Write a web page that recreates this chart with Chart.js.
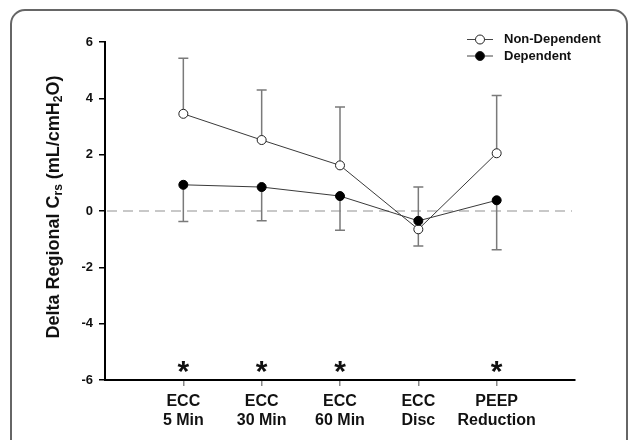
<!DOCTYPE html>
<html>
<head>
<meta charset="utf-8">
<script src="https://cdn.jsdelivr.net/npm/chart.js@4.4.0/dist/chart.umd.min.js"></script>
<style>
  html, body { margin: 0; padding: 0; background: #fff; }
  #wrap { width: 630px; height: 440px; }
</style>
</head>
<body>
<div id="wrap"><canvas id="chart" width="630" height="440"></canvas></div>
<script>
// data
const categories = [['ECC', '5 Min'], ['ECC', '30 Min'], ['ECC', '60 Min'], ['ECC', 'Disc'], ['PEEP', 'Reduction']];
const catPos = [1, 2, 3, 4, 5];
const nonDependent = [3.45, 2.52, 1.62, -0.65, 2.05];
const nonDependentUpper = [5.42, 4.30, 3.69, 0.85, 4.10];
const dependent = [0.93, 0.85, 0.53, -0.35, 0.38];
const dependentLower = [-0.37, -0.35, -0.68, -1.24, -1.38];
const significant = [true, true, true, false, true];
const starLevel = -5.55;
const yTicks = [-6, -4, -2, 0, 2, 4, 6];

const FONT = "Arial, 'Liberation Sans', sans-serif";

const decor = {
  id: 'decor',
  beforeDraw(chart) {
    const c = chart.ctx;
    c.save();
    c.fillStyle = '#fff';
    c.fillRect(0, 0, chart.width, chart.height);
    c.strokeStyle = '#666';
    c.lineWidth = 2;
    c.beginPath();
    c.roundRect(11, 10, 616, 450, 14);
    c.stroke();
    c.restore();
  },
  beforeDatasetsDraw(chart) {
    const c = chart.ctx, x = chart.scales.x, y = chart.scales.y;
    c.save();
    // zero reference line
    c.strokeStyle = '#c8c8c8';
    c.lineWidth = 2;
    c.setLineDash([10, 6]);
    c.beginPath();
    c.moveTo(chart.chartArea.left + 2, y.getPixelForValue(0));
    c.lineTo(chart.chartArea.right - 3, y.getPixelForValue(0));
    c.stroke();
    c.setLineDash([]);
    // error bars
    c.strokeStyle = '#7a7a7a';
    c.lineWidth = 1.5;
    const bar = (xv, from, to) => {
      const px = x.getPixelForValue(xv);
      const a = y.getPixelForValue(from), b = y.getPixelForValue(to);
      c.beginPath();
      c.moveTo(px, a); c.lineTo(px, b);
      c.moveTo(px - 5, b); c.lineTo(px + 5, b);
      c.stroke();
    };
    catPos.forEach((p, i) => {
      bar(p, nonDependent[i], nonDependentUpper[i]);
      bar(p, dependent[i], dependentLower[i]);
    });
    c.restore();
  },
  afterDraw(chart) {
    const c = chart.ctx, x = chart.scales.x, y = chart.scales.y;
    c.save();
    // significance stars
    c.fillStyle = '#111';
    c.font = 'bold 30px ' + FONT;
    c.textAlign = 'center';
    c.textBaseline = 'alphabetic';
    const m = c.measureText('*');
    const off = (m.actualBoundingBoxAscent - m.actualBoundingBoxDescent) / 2;
    catPos.forEach((p, i) => {
      if (significant[i]) c.fillText('*', x.getPixelForValue(p), y.getPixelForValue(starLevel) + off);
    });

    // legend
    const items = [
      { label: 'Non-Dependent', fill: '#fff', y: 39.5 },
      { label: 'Dependent', fill: '#000', y: 56 }
    ];
    items.forEach(it => {
      c.strokeStyle = '#444';
      c.lineWidth = 1;
      c.beginPath();
      c.moveTo(467, it.y); c.lineTo(493, it.y);
      c.stroke();
      c.beginPath();
      c.arc(480, it.y, 4.5, 0, Math.PI * 2);
      c.fillStyle = it.fill;
      c.fill();
      c.strokeStyle = '#222';
      c.stroke();
      c.fillStyle = '#111';
      c.font = 'bold 13px ' + FONT;
      c.textAlign = 'left';
      c.textBaseline = 'middle';
      c.fillText(it.label, 504, it.y);
    });

    // y axis title with subscripts
    const parts = [
      ['Delta Regional C', 0], ['rs', 1], [' (mL/cmH', 0], ['2', 1], ['O)', 0]
    ];
    const mainFont = 'bold 18px ' + FONT, subFont = 'bold 12px ' + FONT;
    let total = 0;
    parts.forEach(p => { c.font = p[1] ? subFont : mainFont; total += c.measureText(p[0]).width; });
    c.translate(59, 207);
    c.rotate(-Math.PI / 2);
    c.textAlign = 'left';
    c.textBaseline = 'alphabetic';
    c.fillStyle = '#111';
    let pos = -total / 2;
    parts.forEach(p => {
      c.font = p[1] ? subFont : mainFont;
      c.fillText(p[0], pos, p[1] ? 3 : 0);
      pos += c.measureText(p[0]).width;
    });
    c.restore();
  }
};

const ctx = document.getElementById('chart');
new Chart(ctx, {
  type: 'line',
  data: {
    datasets: [
      {
        label: 'Dependent',
        data: catPos.map((p, i) => ({ x: p, y: dependent[i] })),
        borderColor: '#3a3a3a',
        borderWidth: 1,
        pointRadius: 4.5,
        pointBackgroundColor: '#000',
        pointBorderColor: '#000',
        pointBorderWidth: 1,
        order: 0
      },
      {
        label: 'Non-Dependent',
        data: catPos.map((p, i) => ({ x: p, y: nonDependent[i] })),
        borderColor: '#3a3a3a',
        borderWidth: 1,
        pointRadius: 4.5,
        pointBackgroundColor: '#fff',
        pointBorderColor: '#222',
        pointBorderWidth: 1,
        order: 1
      }
    ]
  },
  options: {
    responsive: false,
    animation: false,
    layout: { padding: { left: 0, right: 55, top: 42, bottom: 0 } },
    plugins: { legend: { display: false }, tooltip: { enabled: false } },
    elements: { line: { tension: 0 } },
    scales: {
      x: {
        type: 'linear',
        min: 0,
        max: 6,
        afterFit: (s) => { s.height = 60; },
        afterBuildTicks: (s) => { s.ticks = [0, 1, 2, 3, 4, 5, 6].map(v => ({ value: v })); },
        ticks: {
          autoSkip: false,
          maxRotation: 0,
          padding: 6,
          color: '#111',
          font: { family: FONT, size: 16, weight: 'bold', lineHeight: 1.2 },
          callback: (v) => (catPos.indexOf(v) >= 0 ? categories[catPos.indexOf(v)] : '')
        },
        grid: {
          drawOnChartArea: false,
          drawTicks: true,
          tickLength: 6,
          tickColor: (c) => (c.tick && catPos.indexOf(c.tick.value) >= 0 ? '#888' : 'rgba(0,0,0,0)'),
          lineWidth: 1.5
        },
        border: { color: '#000', width: 2 }
      },
      y: {
        min: -6,
        max: 6,
        afterFit: (s) => { s.width = 105; },
        afterBuildTicks: (s) => { s.ticks = yTicks.map(v => ({ value: v })); },
        ticks: {
          padding: 6,
          color: '#111',
          font: { family: FONT, size: 13, weight: 'bold' }
        },
        grid: {
          drawOnChartArea: false,
          drawTicks: true,
          tickLength: 6,
          tickColor: '#000',
          lineWidth: 1.5
        },
        border: { color: '#000', width: 2 }
      }
    }
  },
  plugins: [decor]
});
</script>
</body>
</html>
